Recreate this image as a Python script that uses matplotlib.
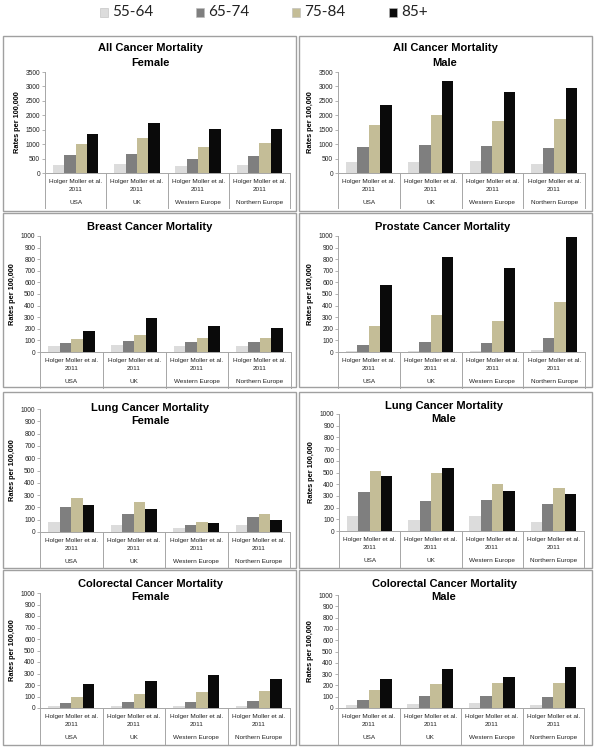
import matplotlib
matplotlib.use("Agg")
import matplotlib.pyplot as plt
import matplotlib.transforms as mtransforms
from matplotlib.patches import Rectangle
from matplotlib.lines import Line2D

plt.rcParams['font.family'] = ['Liberation Sans', 'DejaVu Sans']

# ---------------- data ----------------
age_groups = ["55-64", "65-74", "75-84", "85+"]
regions = ["USA", "UK", "Western Europe", "Northern Europe"]
source_line1 = "Holger Moller et al."
source_line2 = "2011"

# values per age group (rows) across regions (columns)
all_female = [[270, 300, 240, 270], [620, 650, 490, 600],
              [1020, 1210, 910, 1050], [1350, 1740, 1540, 1510]]
all_male = [[370, 370, 410, 320], [910, 960, 930, 880],
            [1650, 2000, 1790, 1860], [2360, 3200, 2800, 2960]]
breast = [[50, 60, 55, 55], [80, 95, 85, 85],
          [115, 150, 125, 125], [180, 290, 220, 210]]
prostate = [[8, 10, 10, 15], [60, 90, 75, 125],
            [225, 315, 265, 430], [575, 815, 725, 995]]
lung_female = [[80, 60, 35, 60], [200, 145, 60, 125],
               [275, 245, 80, 145], [220, 185, 75, 100]]
lung_male = [[125, 95, 130, 80], [335, 260, 265, 230],
             [515, 495, 400, 365], [470, 535, 340, 320]]
colorectal_female = [[15, 20, 20, 20], [45, 55, 50, 65],
                     [100, 125, 140, 145], [210, 235, 290, 255]]
colorectal_male = [[25, 35, 40, 30], [75, 105, 105, 100],
                   [155, 210, 225, 220], [255, 345, 270, 365]]

titles = ["All Cancer Mortality\nFemale", "All Cancer Mortality\nMale",
          "Breast Cancer Mortality", "Prostate Cancer Mortality",
          "Lung Cancer Mortality\nFemale", "Lung Cancer Mortality\nMale",
          "Colorectal Cancer Mortality\nFemale", "Colorectal Cancer Mortality\nMale"]
ticks_3500 = [0, 500, 1000, 1500, 2000, 2500, 3000, 3500]
ticks_1000 = [0, 100, 200, 300, 400, 500, 600, 700, 800, 900, 1000]
ylabel = "Rates per 100,000"

# ---------------- style / layout ----------------
colors = ["#dcdcdc", "#7f7f7f", "#c4bd97", "#0a0a0a"]
W, H = 595, 750
fig = plt.figure(figsize=(W / 100, H / 100), dpi=100)
fig.patch.set_facecolor("white")


def frac_rect(x0, x1, y0, y1):
    return [x0 / W, 1 - y1 / H, (x1 - x0) / W, (y1 - y0) / H]


panels = [
    dict(data=all_female, ticks=ticks_3500, box=(3, 296, 36, 211), ax=(45, 290, 72, 173), tx=150, ty=(48, 63)),
    dict(data=all_male, ticks=ticks_3500, box=(299, 592, 36, 211), ax=(338, 585, 72, 173), tx=445, ty=(48, 63)),
    dict(data=breast, ticks=ticks_1000, box=(3, 296, 213, 387), ax=(40, 291, 236, 352), tx=150, ty=(227,)),
    dict(data=prostate, ticks=ticks_1000, box=(299, 592, 213, 387), ax=(338, 585, 236, 352), tx=443, ty=(227,)),
    dict(data=lung_female, ticks=ticks_1000, box=(3, 296, 392, 568), ax=(40, 290, 409, 532), tx=150, ty=(408, 421)),
    dict(data=lung_male, ticks=ticks_1000, box=(299, 592, 392, 568), ax=(339, 584, 414, 531), tx=444, ty=(406, 419)),
    dict(data=colorectal_female, ticks=ticks_1000, box=(3, 296, 570, 745), ax=(40, 290, 593, 708), tx=150, ty=(584, 597)),
    dict(data=colorectal_male, ticks=ticks_1000, box=(299, 592, 570, 745), ax=(338, 584, 595, 708), tx=444, ty=(584, 597)),
]

bar_w = 0.185
axis_gray = "#a6a6a6"
for i, p in enumerate(panels):
    bx0, bx1, by0, by1 = p["box"]
    fig.patches.append(Rectangle((bx0 / W, 1 - by1 / H), (bx1 - bx0) / W, (by1 - by0) / H,
                                 transform=fig.transFigure, facecolor="none",
                                 edgecolor="#a0a0a0", linewidth=1.0, zorder=-1))
    ax0, ax1, ay0, ay1 = p["ax"]
    ax = fig.add_axes(frac_rect(ax0, ax1, ay0, ay1))
    ax.set_facecolor("none")
    axh = ay1 - ay0
    xs = list(range(len(regions)))
    for g in range(len(age_groups)):
        offs = (g - 1.5) * bar_w
        ax.bar([x + offs for x in xs], p["data"][g], width=bar_w, color=colors[g],
               edgecolor="none", linewidth=0, zorder=2)
    ax.set_xlim(-0.5, len(regions) - 0.5)
    ax.set_ylim(0, p["ticks"][-1])
    ax.set_yticks(p["ticks"])
    ax.set_yticklabels([str(t) for t in p["ticks"]], fontsize=4.8, color="#222222")
    ax.tick_params(axis="y", length=2, width=0.6, color=axis_gray, pad=1.5)
    ax.set_xticks([])
    for s in ["top", "right"]:
        ax.spines[s].set_visible(False)
    for s in ["left", "bottom"]:
        ax.spines[s].set_color(axis_gray)
        ax.spines[s].set_linewidth(0.7)
    ax.set_ylabel(ylabel, fontsize=5.3, fontweight="bold", labelpad=3)

    trans = mtransforms.blended_transform_factory(ax.transData, ax.transAxes)
    for r, name in enumerate(regions):
        ax.text(r, -8.5 / axh, source_line1, transform=trans, ha="center", va="center",
                fontsize=4.6, color="#222222")
        ax.text(r, -16.5 / axh, source_line2, transform=trans, ha="center", va="center",
                fontsize=4.6, color="#222222")
        ax.text(r, -29.5 / axh, name, transform=trans, ha="center", va="center",
                fontsize=4.6, color="#222222")
    for k in range(len(regions) + 1):
        ax.add_line(Line2D([k - 0.5, k - 0.5], [0, -35.5 / axh], transform=trans,
                           color=axis_gray, linewidth=0.7, clip_on=False))

    lines = titles[i].split("\n")
    for line, ty in zip(lines, p["ty"]):
        fig.text(p["tx"] / W, 1 - ty / H, line, ha="center", va="center",
                 fontsize=8, fontweight="bold", color="black")

# legend
leg_x = [100, 196, 292, 389]
for g, lab in enumerate(age_groups):
    x = leg_x[g]
    fig.patches.append(Rectangle((x / W, 1 - 17 / H), 8 / W, 9 / H, transform=fig.transFigure,
                                 facecolor=colors[g], edgecolor="#bbbbbb", linewidth=0.4))
    fig.text((x + 12) / W, 1 - 12.5 / H, lab, ha="left", va="center",
             fontsize=11, family=["Lato", "DejaVu Sans"], color="#222222")

fig.savefig("out.png", dpi=100, facecolor="white")
